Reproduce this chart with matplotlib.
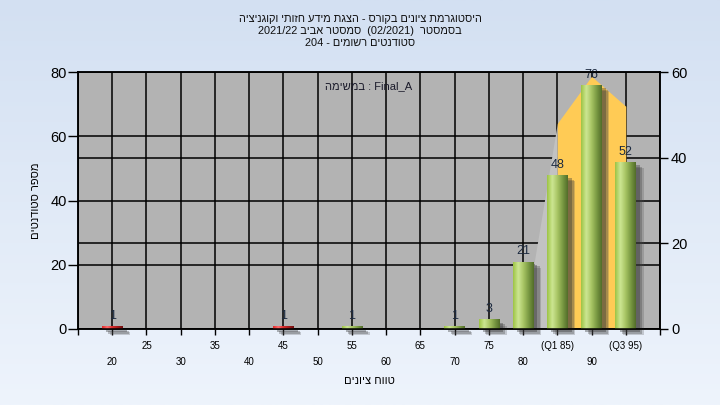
import re
import numpy as np
import matplotlib
matplotlib.use("Agg")
import matplotlib.pyplot as plt
from matplotlib.colors import LinearSegmentedColormap
from matplotlib import patheffects as pe
from matplotlib.transforms import blended_transform_factory

plt.rcParams['font.family'] = ['Liberation Sans', 'DejaVu Sans']

# ---------------- data ----------------
grades = [20, 25, 30, 35, 40, 45, 50, 55, 60, 65, 70, 75, 80, 85, 90, 95]
tick_labels = ['20', '25', '30', '35', '40', '45', '50', '55', '60', '65',
               '70', '75', '80', '(Q1 85)', '90', '(Q3 95)']
counts = [1, 0, 0, 0, 0, 1, 0, 1, 0, 0, 1, 3, 21, 48, 76, 52]
pass_grade = 55
area_grades = [80, 85, 90, 95]
area_values = [0, 48, 59, 52]

title_lines = ["היסטוגרמת ציונים בקורס - הצגת מידע חזותי וקוגניציה",
               "בסמסטר  (02/2021)  סמסטר אביב 2021/22",
               "סטודנטים רשומים - 204"]
task_label = "Final_A : במשימה"
ylabel = "מספר סטודנטים"
xlabel = "טווח ציונים"


def vis(s):
    """Logical RTL string -> visual order for left-to-right rendering."""
    r = s[::-1]
    r = re.sub(r'[A-Za-z0-9_/.]+', lambda m: m.group(0)[::-1], r)
    return r.translate(str.maketrans('()', ')('))


W, H = 720, 405
fig = plt.figure(figsize=(W / 100, H / 100), dpi=100)

# background gradient
bg = fig.add_axes([0, 0, 1, 1], zorder=-10)
bg.imshow(np.linspace(0, 1, 256).reshape(-1, 1), aspect='auto', extent=[0, 1, 0, 1],
          cmap=LinearSegmentedColormap.from_list('bg', ['#D3E0F2', '#EEF4FC']))
bg.axis('off')

L, R, T, B = 78, 660, 72, 329
ax = fig.add_axes([L / W, 1 - B / H, (R - L) / W, (B - T) / H])
ax.set_facecolor('#B3B3B3')
ax2 = ax.twinx()

ax.set_xlim(15, 100)
ax.set_ylim(0, 80)
ax2.set_ylim(0, 60)

# grid
ax.set_axisbelow(True)
ax.set_xticks(list(range(15, 101, 5)))
ax.set_yticks([0, 20, 40, 60, 80])
ax.grid(True, color='black', lw=1.1)
ax2.set_yticks([0, 20, 40, 60])
ax.hlines([20, 40], 15, 100, transform=ax2.transData, color='black', lw=1.1, zorder=0.6)

# area (right axis)
ax.fill_between(area_grades[:2], area_values[:2], color='#C2C2C2', lw=0,
                transform=ax2.transData, zorder=1.5)
ax.fill_between(area_grades[1:], area_values[1:], color='#FFCB55', lw=0,
                transform=ax2.transData, zorder=1.6)

# bars
green = LinearSegmentedColormap.from_list('g', ['#9DC445', '#CDE693', '#A8C564', '#7A9A43', '#536D2A'])
red = LinearSegmentedColormap.from_list('r', ['#E02A2A', '#FF6A6A', '#D82A2A', '#A81A1A', '#701010'])
bw = 3.0
grad = np.linspace(0, 1, 64).reshape(1, -1)
shadow = [pe.SimplePatchShadow(offset=(5.5, -4.5), shadow_rgbFace='#505050', alpha=0.25),
          pe.SimplePatchShadow(offset=(4.5, -3.5), shadow_rgbFace='#404040', alpha=0.3),
          pe.SimplePatchShadow(offset=(3.0, -2.5), shadow_rgbFace='#303030', alpha=0.35),
          pe.Normal()]
for g, c in zip(grades, counts):
    if c <= 0:
        continue
    cmap = red if g < pass_grade else green
    rect = ax.bar(g, c, width=bw, color=cmap(0.5), lw=0, zorder=3)[0]
    rect.set_clip_on(False)
    rect.set_path_effects(shadow)
    im = ax.imshow(grad, extent=[g - bw / 2, g + bw / 2, 0, c], aspect='auto',
                   cmap=cmap, zorder=3.5, interpolation='bilinear')
    im.set_clip_path(rect)
    ax.annotate(str(c), (g, c), xytext=(0, 3), textcoords='offset points',
                ha='center', va='bottom', fontsize=9, color='#1C2A40', zorder=5)

ax.set_xlim(15, 100)
ax.set_ylim(0, 80)
ax.set_aspect('auto')

# ticks
ax.tick_params(axis='y', length=7, width=1, pad=1, labelsize=10.5, colors='black')
ax.tick_params(axis='x', length=4, width=1, labelbottom=False)
ax2.tick_params(axis='y', length=6, width=1, pad=2, labelsize=10.5, colors='black')
for a in (ax, ax2):
    for s in a.spines.values():
        s.set_color('black')
        s.set_linewidth(1.1)

trans = blended_transform_factory(ax.transData, ax.transAxes)
for i, (g, lab) in enumerate(zip(grades, tick_labels)):
    off = -12.3 if i % 2 == 1 else -23.8
    ax.annotate(lab, (g, 0), xycoords=trans, xytext=(0, off), textcoords='offset points',
                ha='center', va='center', fontsize=7, color='black', annotation_clip=False)

# labels and titles
ax.set_ylabel(vis(ylabel), fontsize=8, color='black')
ax.yaxis.set_label_coords((41 - L) / (R - L), 0.5)
ax.set_xlabel(vis(xlabel), fontsize=8, color='black', va='center')
ax.xaxis.set_label_coords(0.5, -(381 - B) / (B - T))

ax.text(0.5, 1 - (86 - T) / (B - T), vis(task_label), transform=ax.transAxes,
        ha='center', va='center', fontsize=8, color='#1A1A2A', zorder=6)

fig.text(0.5, 1 - 31 / H, "\n".join(vis(t) for t in title_lines), ha='center', va='center',
         fontsize=7.9, color='#101010', linespacing=1.2)

fig.savefig('out.png', dpi=100)
